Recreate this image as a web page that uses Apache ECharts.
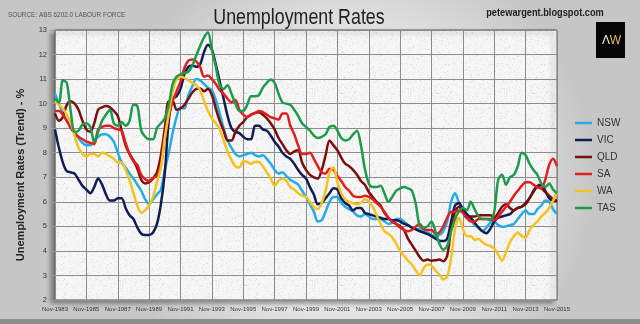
<!DOCTYPE html>
<html>
<head>
<meta charset="utf-8">
<script src="https://cdn.jsdelivr.net/npm/echarts@6/dist/echarts.min.js"></script>
<style>
  html, body { margin: 0; padding: 0; background: #d8d8d8; }
  #chart { width: 640px; height: 324px; }
</style>
</head>
<body>
<div id="chart"></div>
<script>
// Quarterly trend unemployment rates (%), Nov-1983 to Nov-2015
const quarterMonths = ['Nov', 'Feb', 'May', 'Aug'];
const firstYear = 1983;
const quarterCount = 129;

const nsw = [
  10.4, 10.0, 9.6, 9.3, 9.05, 8.85, 8.6, 8.4, 8.3, 8.3,
  8.5, 8.65, 8.75, 8.75, 8.65, 8.45, 8.0, 7.6, 7.4, 7.15,
  6.95, 6.7, 6.45, 6.1, 5.9, 6.1, 6.3, 6.5, 7.3, 8.0,
  8.8, 9.45, 9.85, 9.8, 10.35, 10.7, 11.0, 10.95, 10.8, 10.65,
  10.55, 10.15, 9.6, 9.0, 8.5, 8.2, 7.95, 7.85, 7.9, 7.95,
  8.0, 7.9, 7.85, 7.9, 7.75, 7.55, 7.3, 7.15, 7.2, 7.05,
  6.9, 6.8, 6.7, 6.45, 6.2, 5.9, 5.6, 5.2, 5.25, 5.6,
  6.0, 6.2, 6.2, 5.95, 5.8, 5.7, 5.6, 5.45, 5.4, 5.5,
  5.4, 5.3, 5.3, 5.3, 5.2, 5.1, 5.15, 5.3, 5.3, 5.2,
  5.05, 4.95, 4.9, 4.87, 4.85, 4.75, 4.65, 4.6, 4.65, 4.8,
  5.2, 6.0, 6.35, 5.95, 5.6, 5.4, 5.25, 5.05, 4.95, 4.8,
  4.95, 5.15, 5.2, 5.05, 4.98, 5.0, 5.05, 5.1, 5.3, 5.5,
  5.65, 5.5, 5.5, 5.7, 5.85, 6.05, 6.0, 5.7, 5.5
];
const vic = [
  8.95, 8.2, 7.6, 7.25, 7.2, 7.15, 6.9, 6.65, 6.5, 6.35,
  6.6, 6.95, 6.7, 6.3, 6.05, 6.05, 6.15, 6.15, 5.75, 5.45,
  5.3, 4.95, 4.7, 4.65, 4.65, 4.75, 5.1, 5.9, 7.2, 9.3,
  10.2, 10.3, 10.6, 11.2, 11.5, 11.55, 11.5, 11.6, 12.1, 12.4,
  12.2, 11.6, 10.9, 10.2, 9.5, 9.0, 8.85, 8.8, 8.65, 8.55,
  8.55, 9.1, 9.1, 8.95, 8.9, 8.7, 8.45, 8.25, 8.0, 7.85,
  7.75, 7.55, 7.3, 7.1, 6.95, 6.6, 6.3, 5.9, 5.95, 6.15,
  6.35, 6.55, 6.5, 6.15, 5.95, 5.85, 5.65, 5.75, 5.75, 5.55,
  5.5, 5.45, 5.4, 5.35, 5.3, 5.3, 5.25, 5.25, 5.2, 5.1,
  5.05, 4.95, 4.88, 4.8, 4.75, 4.68, 4.6, 4.5, 4.42, 4.4,
  4.5, 5.2, 5.85, 5.95, 5.7, 5.5, 5.35, 5.15, 4.95, 4.8,
  4.72, 4.9, 5.2, 5.35, 5.4, 5.45, 5.5, 5.65, 5.75, 5.8,
  5.95, 6.15, 6.45, 6.65, 6.7, 6.45, 6.15, 6.05, 6.05
];
const qld = [
  9.6, 9.3, 9.45, 9.95, 10.1, 10.0, 9.75, 9.3, 8.95, 8.85,
  9.2, 9.75, 9.85, 9.9, 9.85, 9.7, 9.5, 8.9, 8.3, 7.95,
  7.7, 7.35, 6.9, 6.75, 6.8, 6.95, 7.2, 7.9, 9.0, 10.1,
  10.1, 9.75, 9.8, 9.95, 10.2, 10.45, 10.6, 10.62, 10.5, 10.6,
  10.35, 9.8, 9.3, 8.9, 8.5, 8.5, 8.85, 9.1, 9.25, 9.45,
  9.55, 9.62, 9.65, 9.55, 9.4, 9.2, 8.95, 8.6, 8.35, 8.1,
  7.95, 8.05, 8.1, 7.6, 7.3, 7.1, 7.0, 6.95, 7.3, 7.9,
  8.5, 8.3, 8.1, 7.8, 7.55, 7.45, 7.3, 7.1, 6.85, 6.7,
  6.4, 6.2, 6.0, 5.85, 5.55, 5.35, 5.2, 5.1, 5.0, 4.85,
  4.5, 4.25, 4.0, 3.75, 3.6, 3.65, 3.6, 3.62, 3.65, 3.58,
  3.8, 4.9, 5.6, 5.8, 5.6, 5.35, 5.4, 5.4, 5.45, 5.45,
  5.45, 5.45, 5.35, 5.55, 5.8, 5.9, 5.75, 5.65, 5.75, 5.8,
  5.9, 6.15, 6.4, 6.6, 6.55, 6.4, 6.25, 6.1, 6.0
];
const sa = [
  9.7, 9.7, 9.55, 9.3, 9.0, 8.8, 8.65, 8.55, 8.45, 8.4,
  8.35, 8.95, 9.05, 9.1, 9.1, 9.0, 8.95, 8.9, 8.4, 7.95,
  7.65, 7.5, 7.1, 6.92, 6.85, 6.98, 7.05, 7.5, 8.6, 9.5,
  10.1, 10.5, 10.9, 11.45, 11.75, 11.8, 11.72, 11.5, 11.1, 11.15,
  11.0, 10.8, 10.55, 10.4, 10.2, 10.05, 10.15, 9.75, 9.55, 9.45,
  9.55, 9.62, 9.7, 9.65, 9.55, 9.45, 9.4, 9.35, 9.6, 9.6,
  9.1, 8.75, 8.3, 7.95, 7.95, 8.0, 7.75, 7.45, 7.2, 7.15,
  7.35, 7.3, 7.05, 6.85, 6.6, 6.45, 6.25, 6.2, 6.2, 6.25,
  6.2, 6.1, 5.95, 5.8, 5.6, 5.35, 5.2, 5.1, 4.95, 4.85,
  4.8, 4.85, 5.0, 5.1, 4.9, 4.85, 4.85, 4.7, 4.75, 5.0,
  5.35, 5.6, 5.6, 5.65, 5.55, 5.35, 5.2, 5.2, 5.3, 5.3,
  5.3, 5.3, 5.25, 5.4, 5.6, 5.8, 6.0, 6.25, 6.45, 6.65,
  6.8, 6.8, 6.7, 6.6, 6.55, 6.9, 7.5, 7.75, 7.45
];
const wa = [
  10.1, 9.95, 9.8, 9.55, 9.25, 8.7, 8.2, 7.95, 7.85, 7.95,
  7.95, 7.85, 8.0, 7.95, 7.85, 7.75, 7.6, 7.6, 7.3, 6.9,
  6.35, 5.85, 5.55, 5.65, 5.85, 6.2, 6.8, 7.4, 8.6, 9.6,
  10.5, 11.0, 11.1, 11.05, 10.95, 10.85, 10.75, 10.55, 10.1, 9.7,
  9.4, 9.2, 8.95, 8.5, 8.05, 7.7, 7.45, 7.4, 7.65, 7.62,
  7.55, 7.62, 7.62, 7.45, 7.2, 6.95, 6.65, 6.85, 6.95, 6.85,
  6.6, 6.5, 6.35, 6.25, 6.2, 6.0, 5.8, 5.7, 5.95, 6.45,
  7.2, 7.4, 6.8, 6.35, 6.1, 6.0, 5.95, 5.9, 5.95, 6.1,
  6.0, 5.8, 5.45, 5.1, 4.8, 4.7, 4.55, 4.3, 4.0, 3.8,
  3.6, 3.45, 3.2, 3.0, 3.3, 3.45, 3.4, 3.2, 3.05, 2.85,
  2.95, 3.7, 4.9, 5.35, 4.9, 4.6, 4.6, 4.45, 4.5, 4.35,
  4.25, 4.2, 4.1, 3.85, 3.6, 3.95, 4.35, 4.6, 4.75, 4.6,
  4.55, 4.85, 5.05, 5.2, 5.4, 5.55, 5.75, 6.05, 6.4
];
const tas = [
  10.2, 10.05, 10.95, 10.85, 9.7, 8.85, 8.9, 9.15, 9.2, 9.05,
  8.45, 8.85, 9.3, 9.55, 9.75, 9.2, 9.1, 9.25, 9.1, 9.3,
  9.95, 9.9, 8.9, 8.65, 8.55, 8.55, 9.0, 9.2, 9.4, 9.95,
  10.8, 11.1, 11.2, 11.25, 11.3, 11.55, 11.95, 12.35, 12.7, 12.9,
  12.2, 11.5, 10.75, 10.6, 10.75, 10.4, 10.0, 9.7, 9.7, 9.95,
  10.3, 10.3, 10.35, 10.65, 10.85, 10.98, 10.85, 10.4, 10.05, 10.0,
  9.95, 9.75, 9.5, 9.2, 9.05, 8.9, 8.7, 8.6, 8.65, 8.75,
  9.05, 9.1, 8.9, 8.6, 8.5, 8.55, 8.75, 8.9, 8.3, 7.35,
  6.75, 6.6, 6.6, 6.65, 6.35, 6.0, 6.2, 6.45, 6.55, 6.6,
  6.55, 6.45, 5.9, 5.0, 4.95, 5.0, 5.2, 4.8, 4.3, 4.05,
  4.2, 4.8, 5.3, 5.6, 5.75, 5.65, 6.0, 5.7, 5.4, 5.3,
  5.3, 5.25, 5.6, 6.9, 7.1, 6.7, 7.0, 7.1, 7.45, 8.0,
  7.9, 7.55, 7.3, 7.1, 6.75, 6.6, 6.75, 6.5, 6.35
];

const seriesNames = ['NSW', 'VIC', 'QLD', 'SA', 'WA', 'TAS'];
const seriesValues = [nsw, vic, qld, sa, wa, tas];
const seriesColors = ['#25ace4', '#101d55', '#7c0e0e', '#e11f1f', '#f5c21f', '#1e9a4b'];

const yMin = 2, yMax = 13, yStep = 1;
const labelEvery = 8; // one x label per two years

const categories = [];
for (let i = 0; i < quarterCount; i++) {
  const year = firstYear + Math.floor((i + 3) / 4);
  categories.push(quarterMonths[i % 4] + '-' + year);
}

// light speckled plot-area texture
function makeTexture() {
  const c = document.createElement('canvas');
  c.width = 96; c.height = 96;
  const ctx = c.getContext('2d');
  ctx.fillStyle = '#f6f6f6';
  ctx.fillRect(0, 0, 96, 96);
  let s = 12345;
  const rnd = () => { s = (s * 1103515245 + 12345) & 0x7fffffff; return s / 0x7fffffff; };
  for (let k = 0; k < 1400; k++) {
    const g = 222 + Math.floor(rnd() * 22);
    ctx.fillStyle = 'rgb(' + g + ',' + g + ',' + g + ')';
    ctx.fillRect(Math.floor(rnd() * 96), Math.floor(rnd() * 96), 1, 1);
  }
  return c;
}

const sans = "'Liberation Sans', Arial, sans-serif";
const showEvery = (idx) => idx % labelEvery === 0;

const chart = echarts.init(document.getElementById('chart'), null, { renderer: 'canvas' });
chart.setOption({
  animation: false,
  backgroundColor: {
    type: 'radial', x: 0.55, y: 0.55, r: 0.75,
    colorStops: [
      { offset: 0, color: '#eeeeee' },
      { offset: 0.6, color: '#e2e2e2' },
      { offset: 1, color: '#c6c6c6' }
    ]
  },
  graphic: [
    { type: 'rect', left: 0, top: 319, shape: { width: 640, height: 5 },
      style: { fill: '#8d8d8d' }, z: -1 },
    { type: 'text', x: 8, y: 15, scaleX: 0.8,
      style: { text: 'SOURCE: ABS 6202.0 LABOUR FORCE', font: '8px ' + sans, fill: '#555',
               textAlign: 'left', textVerticalAlign: 'middle' } },
    { type: 'text', x: 299, y: 18, scaleX: 0.81,
      style: { text: 'Unemployment Rates', font: '22px ' + sans, fill: '#222',
               textAlign: 'center', textVerticalAlign: 'middle' } },
    { type: 'text', x: 545, y: 13, scaleX: 0.84,
      style: { text: 'petewargent.blogspot.com', font: 'bold 11px ' + sans, fill: '#222',
               textAlign: 'center', textVerticalAlign: 'middle' } },
    { type: 'rect', left: 596, top: 22, shape: { width: 29, height: 36 }, style: { fill: '#050505' } },
    { type: 'text', x: 606, y: 41,
      style: { text: '\u039B', font: '12px ' + sans, fill: '#f0f0f0',
               textAlign: 'center', textVerticalAlign: 'middle' } },
    { type: 'text', x: 615.5, y: 41,
      style: { text: 'W', font: '12px ' + sans, fill: '#e2c04a',
               textAlign: 'center', textVerticalAlign: 'middle' } },
    { type: 'text', x: 21, y: 175, rotation: Math.PI / 2,
      style: { text: 'Unemployment Rates (Trend) - %', font: 'bold 11px ' + sans,
               fill: '#222', textAlign: 'center', textVerticalAlign: 'middle' } }
  ],
  grid: {
    left: 55, right: 83, top: 30, bottom: 24, show: true,
    backgroundColor: { image: makeTexture(), repeat: 'repeat' },
    borderColor: '#555', borderWidth: 1,
    shadowColor: 'rgba(0,0,0,0.35)', shadowBlur: 4, shadowOffsetX: -4, shadowOffsetY: 3
  },
  legend: {
    data: seriesNames, orient: 'vertical', left: 575, top: 116, padding: 0,
    icon: 'rect', itemWidth: 17, itemHeight: 2.5, itemGap: 3,
    textStyle: { fontFamily: sans, fontSize: 10, color: '#333', lineHeight: 14 }
  },
  xAxis: {
    type: 'category', data: categories, boundaryGap: false,
    axisLine: { show: false }, axisTick: { show: false },
    axisLabel: { interval: showEvery, fontFamily: sans, fontSize: 6, color: '#333', margin: 6 },
    splitLine: { show: true, interval: showEvery, lineStyle: { color: '#8c8c8c', width: 1 } }
  },
  yAxis: {
    type: 'value', min: yMin, max: yMax, interval: yStep,
    axisLine: { show: false },
    axisTick: { show: true, length: 5, lineStyle: { color: '#999' } },
    axisLabel: { fontFamily: sans, fontSize: 7.5, color: '#333', margin: 8 },
    splitLine: { lineStyle: { color: '#8c8c8c', width: 1 } }
  },
  series: seriesNames.map((name, k) => ({
    name: name, type: 'line', data: seriesValues[k],
    symbol: 'none', smooth: 0.3,
    lineStyle: { width: 2.5, color: seriesColors[k] },
    itemStyle: { color: seriesColors[k] }
  }))
});
</script>
</body>
</html>
